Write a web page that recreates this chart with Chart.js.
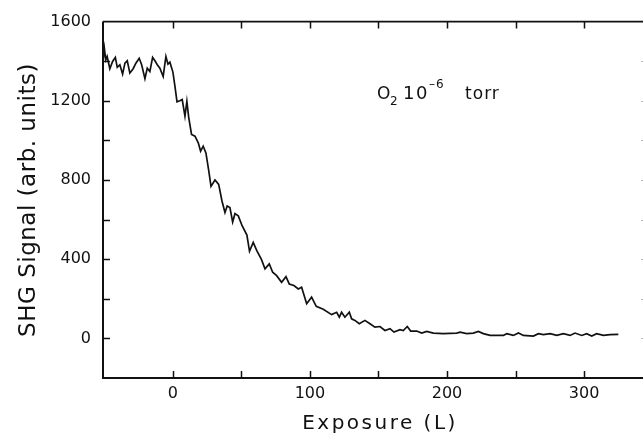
<!DOCTYPE html>
<html>
<head>
<meta charset="utf-8">
<script src="https://cdn.jsdelivr.net/npm/chart.js@4.4.0/dist/chart.umd.min.js"></script>
<style>
html, body { margin: 0; padding: 0; background: #fff; overflow: hidden; }
#wrap { width: 643px; height: 434px; }
</style>
</head>
<body>
<div id="wrap"><canvas id="shgChart"></canvas></div>
<script>
// SHG signal vs O2 exposure
const exposure = [
    -51, -50, -49, -48, -46, -44, -42, -40.6, -38.7, -36.7, -35, -33.3, -31.4, -29, -27,
    -24.6, -22.8, -20.4, -18.7, -16.8, -14.8, -13.1, -11.4, -9.5, -7.1, -5.1, -3.6, -2.2,
    0, 1.5, 3, 5, 6.8, 8.8, 10.2, 11.5, 13.6, 16.1, 18.5, 20.2, 22.1, 24.1, 26.2, 27.8,
    30.7, 33.4, 35.8, 38, 39.6, 41.6, 43.6, 45.3, 47.7, 50.5, 54, 55.9, 58.6, 61.3, 64.5,
    67.2, 70.3, 72.8, 75.7, 79.3, 82.5, 84.9, 88.3, 91.5, 93.9, 97.6, 101.2, 104.6, 109.7,
    115.8, 119.5, 121.4, 123.1, 125.5, 128.7, 130.4, 132.8, 136, 140.1, 143.8, 147.4,
    151.1, 154.7, 158.4, 161.3, 165.7, 168.1, 171, 173.5, 177.9, 181.5, 185.2, 190, 197.3,
    207.1, 209.5, 214.4, 219.2, 222.9, 226.5, 231.4, 236.3, 241.1, 243.6, 248.4, 252.1,
    255.7, 263, 266.7, 270.3, 275.2, 280.1, 284.9, 289.8, 293.4, 298.3, 301.9, 305.6,
    309.2, 314.1, 319, 325
];
const signal = [
    1399, 1465, 1407, 1424, 1362, 1399, 1419, 1369, 1382, 1335, 1390, 1402, 1340, 1362, 1390,
    1415, 1382, 1312, 1365, 1348, 1419, 1402, 1382, 1365, 1323, 1424, 1385, 1395,
    1345, 1273, 1195, 1200, 1206, 1122, 1197, 1118, 1030, 1021, 988, 946, 971, 937, 845, 768,
    800, 778, 694, 636, 669, 661, 588, 630, 619, 569, 522, 440, 485, 442, 400,
    351, 376, 334, 317, 283, 312, 275, 267, 250, 258, 175, 208, 162, 147,
    120, 132, 107, 132, 107, 132, 99, 91, 74, 91, 74, 57,
    60, 40, 49, 32, 44, 40, 60, 37, 37, 27, 35, 27, 24,
    27, 32, 24, 27, 35, 24, 15, 15, 15, 24, 15, 27,
    15, 12, 24, 19, 24, 15, 24, 15, 27, 15, 24, 12,
    24, 15, 19, 20
];
const xTicks = [0, 50, 100, 150, 200, 250, 300];
const xTitle = 'Exposure (L)';
const yTitle = 'SHG Signal (arb. units)';

const points = exposure.map((v, i) => ({ x: v, y: signal[i] }));

const framePlugin = {
    id: 'frame',
    afterDraw(chart) {
        const { ctx, chartArea: a, scales: { x, y } } = chart;
        ctx.save();
        ctx.strokeStyle = '#111';
        ctx.lineWidth = 2;
        ctx.beginPath();
        ctx.moveTo(a.left, a.top);
        ctx.lineTo(a.left, a.bottom);
        ctx.lineTo(a.right, a.bottom);
        ctx.stroke();
        ctx.lineWidth = 1.6;
        ctx.beginPath();
        ctx.moveTo(a.left, a.top);
        ctx.lineTo(a.right, a.top);
        ctx.stroke();

        // inward ticks
        ctx.lineWidth = 1.5;
        ctx.beginPath();
        x.ticks.forEach(t => {
            const px = Math.round(x.getPixelForValue(t.value)) + 0.5;
            ctx.moveTo(px, a.bottom); ctx.lineTo(px, a.bottom - 7);
            ctx.moveTo(px, a.top); ctx.lineTo(px, a.top + 7);
        });
        y.ticks.forEach(t => {
            if (t.value <= y.min || t.value >= y.max) return;
            const py = Math.round(y.getPixelForValue(t.value)) + 0.5;
            ctx.moveTo(a.left, py); ctx.lineTo(a.left + 7, py);
        });
        ctx.stroke();
        ctx.strokeStyle = '#bbb';
        ctx.lineWidth = 1;
        ctx.beginPath();
        y.ticks.forEach(t => {
            if (t.value <= y.min || t.value >= y.max) return;
            const py = Math.round(y.getPixelForValue(t.value)) + 0.5;
            ctx.moveTo(a.right, py); ctx.lineTo(a.right - 2, py);
        });
        ctx.stroke();

        // axis titles
        ctx.fillStyle = '#111';
        ctx.textAlign = 'center';
        ctx.textBaseline = 'alphabetic';
        ctx.font = '20px "DejaVu Sans"';
        ctx.letterSpacing = '2.5px';
        ctx.fillText(xTitle, 380, 429);
        ctx.save();
        ctx.translate(35, 200);
        ctx.rotate(-Math.PI / 2);
        ctx.font = '23px "DejaVu Sans"';
        ctx.letterSpacing = '0.5px';
        ctx.fillText(yTitle, 0, 0);
        ctx.restore();

        // annotation, anchored in data units
        const ax = x.getPixelForValue(149);
        const ay = y.getPixelForValue(1208);
        ctx.textAlign = 'left';
        ctx.font = '17px "DejaVu Sans"';
        ctx.letterSpacing = '1px';
        ctx.fillText('O', ax, ay);
        ctx.fillText('torr', ax + 88, ay);
        ctx.font = '18px "DejaVu Sans"';
        ctx.letterSpacing = '1.5px';
        ctx.fillText('10', ax + 26, ay);
        ctx.font = '12px "DejaVu Sans"';
        ctx.letterSpacing = '1px';
        ctx.fillText('2', ax + 13, ay + 6);
        ctx.fillText('\u20136', ax + 52, ay - 11);
        ctx.restore();
    }
};

new Chart(document.getElementById('shgChart'), {
    type: 'line',
    data: {
        datasets: [{
            data: points,
            borderColor: '#111',
            borderWidth: 1.7,
            pointRadius: 0,
            tension: 0,
            fill: false
        }]
    },
    options: {
        responsive: true,
        maintainAspectRatio: false,
        animation: false,
        layout: { padding: { top: 19, right: 0, left: 0, bottom: 0 } },
        plugins: {
            legend: { display: false },
            tooltip: { enabled: false }
        },
        scales: {
            x: {
                type: 'linear',
                min: -51,
                max: 343,
                afterBuildTicks: s => { s.ticks = xTicks.map(v => ({ value: v })); },
                afterFit: s => { s.height = 56; },
                grid: { display: false, drawTicks: false },
                border: { display: false },
                ticks: {
                    padding: 6,
                    color: '#111',
                    font: { family: 'DejaVu Sans', size: 16 },
                    maxRotation: 0,
                    callback: v => (v % 100 === 0 ? v : '')
                }
            },
            y: {
                min: -200,
                max: 1600,
                afterFit: s => { s.width = 103; },
                grid: { display: false, drawTicks: false },
                border: { display: false },
                ticks: {
                    stepSize: 200,
                    padding: 12,
                    color: '#111',
                    font: { family: 'DejaVu Sans', size: 16 },
                    callback: v => (v % 400 === 0 ? v : '')
                }
            }
        }
    },
    plugins: [framePlugin]
});
</script>
</body>
</html>
